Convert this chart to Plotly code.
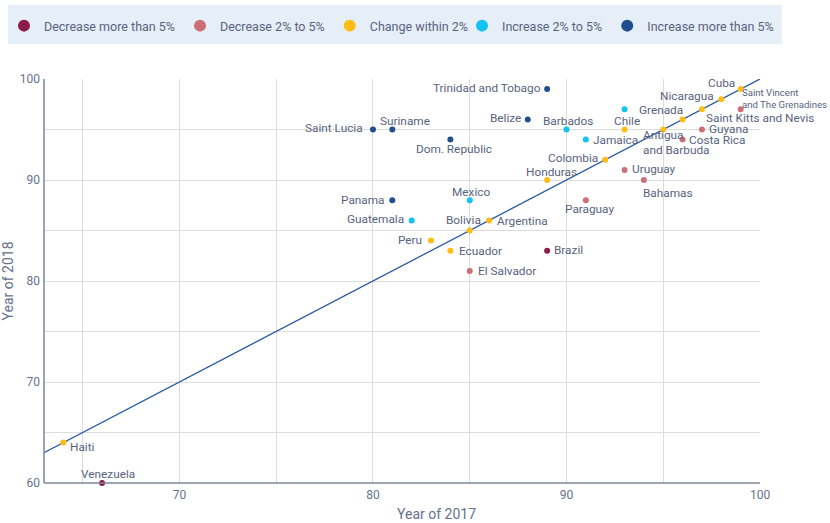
import plotly.graph_objects as go

# ---- data ----
countries = ["Cuba", "Saint Vincent<br>and The Grenadines", "Nicaragua", "Saint Kitts and Nevis",
             "Grenada", "Antigua<br>and Barbuda", "Guyana", "Costa Rica", "Chile", "",
             "Jamaica", "Colombia", "Uruguay", "Bahamas", "Trinidad and Tobago", "Belize",
             "Barbados", "Dom. Republic", "Honduras", "Saint Lucia", "Suriname", "Panama",
             "Mexico", "Guatemala", "Bolivia", "Argentina", "Peru", "Ecuador", "El Salvador",
             "Brazil", "Paraguay", "Haiti", "Venezuela"]
year_2017 = [99, 99, 98, 97, 96, 95, 97, 96, 93, 93,
             91, 92, 93, 94, 89, 88,
             90, 84, 89, 80, 81, 81,
             85, 82, 85, 86, 83, 84, 85,
             89, 91, 64, 66]
year_2018 = [99, 97, 98, 97, 96, 95, 95, 94, 95, 97,
             94, 92, 91, 90, 99, 96,
             95, 94, 90, 95, 95, 88,
             88, 86, 85, 86, 84, 83, 81,
             83, 88, 64, 60]
category = ["Change within 2%", "Decrease 2% to 5%", "Change within 2%", "Change within 2%",
            "Change within 2%", "Change within 2%", "Decrease 2% to 5%", "Decrease 2% to 5%",
            "Change within 2%", "Increase 2% to 5%",
            "Increase 2% to 5%", "Change within 2%", "Decrease 2% to 5%", "Decrease 2% to 5%",
            "Increase more than 5%", "Increase more than 5%",
            "Increase 2% to 5%", "Increase more than 5%", "Change within 2%", "Increase more than 5%",
            "Increase more than 5%", "Increase more than 5%",
            "Increase 2% to 5%", "Increase 2% to 5%", "Change within 2%", "Change within 2%",
            "Change within 2%", "Change within 2%", "Decrease 2% to 5%",
            "Decrease more than 5%", "Decrease 2% to 5%", "Change within 2%", "Decrease more than 5%"]
categories = ["Decrease more than 5%", "Decrease 2% to 5%", "Change within 2%",
              "Increase 2% to 5%", "Increase more than 5%"]
x_title = "Year of 2017"
y_title = "Year of 2018"

# ---- styles ----
colors = {"Decrease more than 5%": "#8c1b4a", "Decrease 2% to 5%": "#cd6f76",
          "Change within 2%": "#fdbd14", "Increase 2% to 5%": "#12c2f0",
          "Increase more than 5%": "#204e8e"}
# label placement: (anchor, x offset px, y offset px downward) relative to the point
label_place = {
    "Cuba": ("right", -5, -6.5), "Saint Vincent<br>and The Grenadines": ("left", 0, -10.5),
    "Nicaragua": ("right", -6, -3.5), "Saint Kitts and Nevis": ("left", 3, 8.5),
    "Grenada": ("right", 1, -9), "Antigua<br>and Barbuda": ("left", -21, 12.5),
    "Guyana": ("left", 6, -1), "Costa Rica": ("left", 5, 0), "Chile": ("center", 2, -9),
    "Jamaica": ("left", 6, 0), "Colombia": ("right", -6, -2), "Uruguay": ("left", 6, -1),
    "Bahamas": ("left", -2, 13), "Trinidad and Tobago": ("right", -5, -1),
    "Belize": ("right", -6, -1), "Barbados": ("center", 2, -8.5),
    "Dom. Republic": ("center", 4, 9), "Honduras": ("center", 4, -8),
    "Saint Lucia": ("right", -9, -2), "Suriname": ("center", 13, -8.5),
    "Panama": ("right", -6, 0), "Mexico": ("center", 1, -8),
    "Guatemala": ("right", -6.7, -1.7), "Bolivia": ("center", -6, -11),
    "Argentina": ("left", 7, 1), "Peru": ("right", -7.7, -1), "Ecuador": ("left", 7.4, 0),
    "El Salvador": ("left", 7.7, 0), "Brazil": ("left", 6, -1),
    "Paraguay": ("center", 4, 9), "Haiti": ("left", 5.4, 4.5), "Venezuela": ("center", 6, -9)}
label_size = {"Saint Vincent<br>and The Grenadines": 9.6}
legend_group = {"Decrease more than 5%": "legend", "Decrease 2% to 5%": "legend",
                "Change within 2%": "legend", "Increase 2% to 5%": "legend2",
                "Increase more than 5%": "legend2"}

FONT = "Roboto, sans-serif"
TXT = "#59637e"
AX = "#66718c"
x_range = [63, 100]
y_range = [60, 100]
W, H = 830, 523
ML, MR, MT, MB = 44, 70, 79, 40
PW, PH = W - ML - MR, H - MT - MB

fig = go.Figure()

# diagonal y = x reference line
fig.add_trace(go.Scatter(x=x_range, y=x_range, mode="lines",
                         line=dict(color="#2b59a3", width=1.3),
                         showlegend=False, hoverinfo="skip"))

for cat in categories:
    idx = [i for i, c in enumerate(category) if c == cat]
    fig.add_trace(go.Scatter(
        x=[year_2017[i] for i in idx], y=[year_2018[i] for i in idx],
        text=[countries[i] for i in idx], hoverinfo="text",
        mode="markers", marker=dict(color=colors[cat], size=6),
        showlegend=False, cliponaxis=False, name=cat))
    # legend entry
    fig.add_trace(go.Scatter(x=[None], y=[None], mode="markers", name=cat,
                             legend=legend_group[cat],
                             marker=dict(color=colors[cat], size=12)))

# country labels
for name, xv, yv in zip(countries, year_2017, year_2018):
    if not name:
        continue
    anchor, dx, dy = label_place[name]
    fig.add_annotation(x=xv, y=yv, text=name, showarrow=False,
                       xanchor=anchor, yanchor="middle", align="left",
                       xshift=dx, yshift=-dy, borderpad=0,
                       font=dict(family=FONT, size=label_size.get(name, 11.8), color=TXT))

# legend background band
fig.add_shape(type="rect", xref="paper", yref="paper",
              x0=(8 - ML) / PW, x1=(782 - ML) / PW,
              y0=1 + (MT - 44) / PH, y1=1 + (MT - 5) / PH,
              fillcolor="#e6eef8", line=dict(width=0), layer="below")

axis_common = dict(showgrid=True, gridcolor="#dcdcdc", gridwidth=1, zeroline=False,
                   ticks="", tickfont=dict(family=FONT, size=12, color=AX),
                   showline=False, dtick=10, automargin=False, ticklabelstandoff=3,
                   minor=dict(dtick=5, showgrid=True, gridcolor="#dcdcdc", gridwidth=1))

fig.update_xaxes(range=x_range, tick0=60, **axis_common)
fig.update_yaxes(range=y_range, tick0=60, title=dict(text=y_title, standoff=2,
                 font=dict(family=FONT, size=14, color=AX)), **axis_common)

# x axis title (offset to the right as in the original)
fig.add_annotation(text=x_title, xref="paper", yref="paper",
                   x=(436 - ML) / PW, y=-(514 - MT - PH) / PH,
                   xanchor="center", yanchor="middle", showarrow=False,
                   font=dict(family=FONT, size=14, color=AX))

# axis lines (left and bottom)
fig.add_shape(type="line", xref="paper", yref="paper", x0=0, x1=0, y0=0, y1=1,
              line=dict(color="#7c869e", width=1.5))
fig.add_shape(type="line", xref="paper", yref="paper", x0=0, x1=1, y0=0, y1=0,
              line=dict(color="#7c869e", width=1.5))

legend_common = dict(orientation="h", xref="container", yref="container",
                     y=1 - 11 / H, xanchor="left", yanchor="top",
                     bgcolor="rgba(0,0,0,0)", font=dict(family=FONT, size=12.5, color="#59637e"),
                     itemwidth=30, tracegroupgap=0)

fig.update_layout(
    width=W, height=H,
    margin=dict(l=ML, r=MR, t=MT, b=MB),
    plot_bgcolor="white", paper_bgcolor="white",
    legend=dict(x=4 / W, **legend_common),
    legend2=dict(x=462 / W, **legend_common),
)

fig.write_html("out.html", config={"displayModeBar": False},
               post_script="document.body.style.margin='0';")
